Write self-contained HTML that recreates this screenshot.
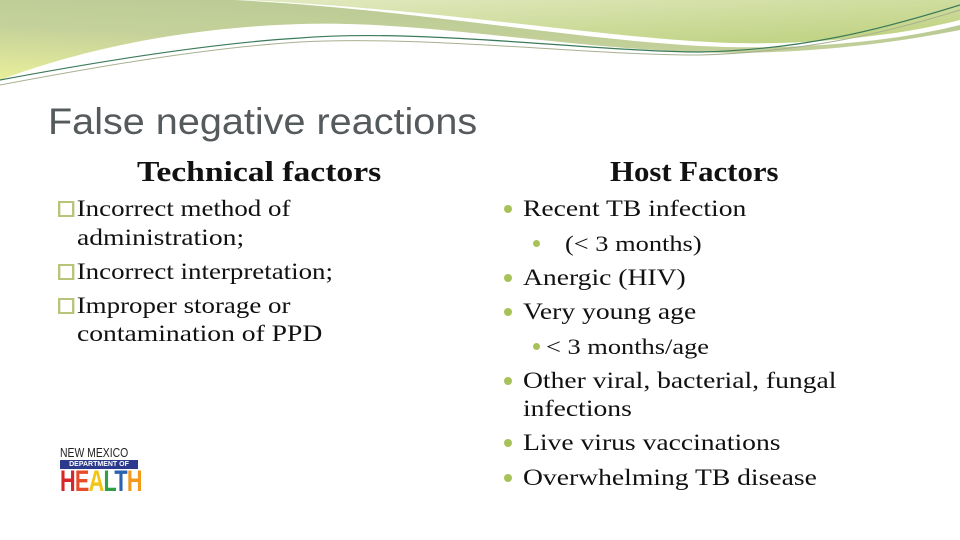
<!DOCTYPE html>
<html><head><meta charset="utf-8"><style>
body{margin:0;width:960px;height:540px;overflow:hidden;background:#fff;position:relative;font-family:"Liberation Serif",serif;}
.t{position:absolute;white-space:nowrap;color:#111;font-size:23px;line-height:28px;transform:scaleX(1.2);transform-origin:left center;}
.dot{position:absolute;width:8px;height:8px;border-radius:50%;background:#a8c25a;}
.sq{display:inline-block;width:14px;height:16px;border:2px solid #b8c47a;box-sizing:border-box;vertical-align:-1px;margin-right:2px;}
</style></head><body>
<svg width="960" height="100" style="position:absolute;left:0;top:0">
<defs><linearGradient id="g1" x1="0" y1="1" x2="0.6" y2="0"><stop offset="0" stop-color="#e8ef9a"/><stop offset="0.5" stop-color="#c5d19a"/><stop offset="1" stop-color="#b8c994"/></linearGradient>
<linearGradient id="g2" x1="0" y1="0" x2="1" y2="1"><stop offset="0" stop-color="#e2e9c0"/><stop offset="1" stop-color="#bcd07c"/></linearGradient></defs>
<path d="M0,0 L960,0 L960,30 C860,50 760,55 700,52 C560,48 420,20 300,24 C180,28 80,50 0,80 Z" fill="url(#g1)"/>
<path d="M235,0 L960,0 L960,25 C880,45 780,50 700,46 C560,38 420,10 235,0 Z" fill="#fff"/>
<path d="M245,0 L960,0 L960,20 C890,38 800,45 730,43 C600,38 450,10 245,0 Z" fill="url(#g2)"/>
<path d="M960,5 C880,30 800,50 700,52 C600,52 420,28 300,38 C200,44 80,65 0,80" fill="none" stroke="#3b7a5a" stroke-width="1.2"/>
<path d="M960,10 C880,35 800,52 700,55 C600,56 420,35 300,42 C200,48 80,70 0,85" fill="none" stroke="#a8b090" stroke-width="1"/>
</svg>
<div class="t" style="left:48px;top:101px;font-family:'Liberation Sans',sans-serif;font-size:37px;line-height:42px;color:#555a5c;transform:scaleX(1.07);">False negative reactions</div>
<div class="t" style="left:137px;top:157px;font-size:28px;line-height:32px;font-weight:bold;">Technical factors</div>
<div class="t" style="left:610px;top:157px;font-size:28px;line-height:32px;font-weight:bold;transform:scaleX(1.1);">Host Factors</div>
<div>
<div class="t" style="left:58px;top:195px;transform:scaleX(1.17)"><span class="sq"></span>Incorrect method of</div>
<div class="t" style="left:77px;top:224px">administration;</div>
<div class="t" style="left:58px;top:258px;transform:scaleX(1.17)"><span class="sq"></span>Incorrect interpretation;</div>
<div class="t" style="left:58px;top:292px;transform:scaleX(1.17)"><span class="sq"></span>Improper storage or</div>
<div class="t" style="left:77px;top:320px">contamination of PPD</div>
</div>
<div>
<div class="dot" style="left:504px;top:205px"></div><div class="t" style="left:523px;top:195px">Recent TB infection</div>
<div class="dot" style="left:533px;top:240px;width:7px;height:7px"></div><div class="t" style="left:565px;top:230px;font-size:22px">(&lt; 3 months)</div>
<div class="dot" style="left:504px;top:274px"></div><div class="t" style="left:523px;top:264px">Anergic (HIV)</div>
<div class="dot" style="left:504px;top:308px"></div><div class="t" style="left:523px;top:298px">Very young age</div>
<div class="dot" style="left:533px;top:343px;width:7px;height:7px"></div><div class="t" style="left:546px;top:333px;font-size:22px">&lt; 3 months/age</div>
<div class="dot" style="left:504px;top:377px"></div><div class="t" style="left:523px;top:367px">Other viral, bacterial, fungal</div>
<div class="t" style="left:523px;top:395px">infections</div>
<div class="dot" style="left:504px;top:439px"></div><div class="t" style="left:523px;top:429px">Live virus vaccinations</div>
<div class="dot" style="left:504px;top:474px"></div><div class="t" style="left:523px;top:464px">Overwhelming TB disease</div>
</div>
<div style="position:absolute;left:60px;top:446px;width:78px;">
<div style="font-family:'Liberation Sans',sans-serif;font-size:13px;line-height:13px;transform:scaleX(0.8);transform-origin:left;color:#222;white-space:nowrap">NEW MEXICO</div>
<div style="background:#2b3a8c;color:#fff;font-family:'Liberation Sans',sans-serif;font-size:7px;font-weight:bold;line-height:9px;text-align:center;margin-top:1px">DEPARTMENT OF</div>
<div style="font-family:'Liberation Sans',sans-serif;font-weight:bold;font-size:30px;line-height:26px;letter-spacing:-1px;white-space:nowrap;transform:scaleX(0.72);transform-origin:left"><span style="color:#d7262b">H</span><span style="color:#e84d2a">E</span><span style="color:#f2c416">A</span><span style="color:#2fa046">L</span><span style="color:#2a62b2">T</span><span style="color:#f39a1e">H</span></div>
</div>
</body></html>
